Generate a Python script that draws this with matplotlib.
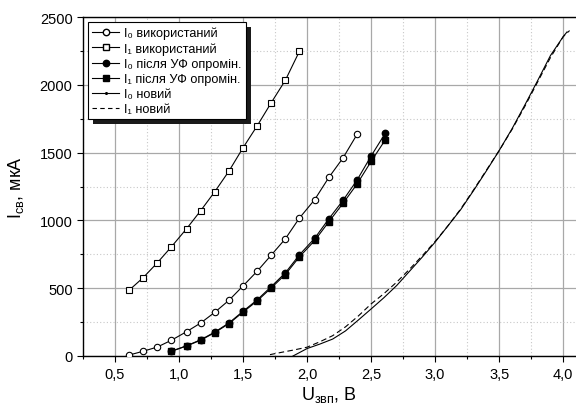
import numpy as np
import matplotlib
matplotlib.use("Agg")
import matplotlib.pyplot as plt
from matplotlib.lines import Line2D
from matplotlib.patches import Rectangle
from matplotlib.ticker import MultipleLocator, FuncFormatter

plt.rcParams['font.family'] = ['Liberation Sans', 'DejaVu Sans']

# measured points (U, V; I, uA)
u_pts = [0.61, 0.72, 0.83, 0.94, 1.06, 1.17, 1.28, 1.39, 1.50, 1.61, 1.72, 1.83, 1.94,
         2.06, 2.17, 2.28, 2.39, 2.50, 2.61]

i0_used = [7, 35, 66, 116, 180, 244, 323, 411, 517, 625, 744, 864, 1017, 1154, 1317, 1460, 1634]
i1_used = [485, 578, 687, 805, 940, 1073, 1213, 1364, 1536, 1697, 1868, 2033, 2247]

i0_uv = [35, 76, 120, 177, 244, 330, 414, 512, 613, 746, 869, 1012, 1147, 1297, 1475, 1642]
i1_uv = [35, 74, 117, 173, 239, 324, 406, 502, 601, 731, 852, 990, 1125, 1268, 1435, 1593]

u_new0 = [1.89, 2.0, 2.1, 2.2, 2.3, 2.4, 2.5, 2.6, 2.7, 2.8, 2.9, 3.0, 3.1, 3.2, 3.3,
          3.4, 3.5, 3.6, 3.7, 3.8, 3.9, 4.0, 4.03]
i0_new = [0, 55, 88, 125, 185, 265, 347, 430, 520, 625, 730, 840, 960, 1080, 1220,
          1365, 1515, 1675, 1850, 2030, 2215, 2355, 2390]

u_new1 = [1.71, 1.8, 1.9, 2.0, 2.1, 2.2, 2.3, 2.4, 2.5, 2.6, 2.7, 2.8, 2.9, 3.0, 3.1,
          3.2, 3.3, 3.4, 3.5, 3.6, 3.7, 3.8, 3.9, 4.0, 4.05]
i1_new = [10, 27, 45, 65, 105, 150, 215, 295, 384, 460, 545, 640, 740, 845, 960,
          1085, 1225, 1370, 1515, 1670, 1840, 2020, 2200, 2355, 2400]

labels = ["I₀ використаний", "I₁ використаний",
          "I₀ після УФ опромін.", "I₁ після УФ опромін.",
          "I₀ новий", "I₁ новий"]

fig = plt.figure(figsize=(5.76, 4.14), dpi=100)
ax = fig.add_axes([83/576, 1-357/414, 1-83/576, (357-18)/414])

lw = 0.8
ms = 4.6
ax.plot(u_pts[3:3+len(i1_uv)], i1_uv, 'k-', lw=lw, marker='s', ms=ms-0.4, mfc='k', mec='k', zorder=3)
ax.plot(u_pts[3:3+len(i0_uv)], i0_uv, 'k-', lw=lw, marker='o', ms=ms, mfc='k', mec='k', zorder=3)
ax.plot(u_pts[:len(i0_used)], i0_used, 'k-', lw=lw, marker='o', ms=ms, mfc='white', mec='k', mew=0.8, zorder=3)
ax.plot(u_pts[:len(i1_used)], i1_used, 'k-', lw=lw, marker='s', ms=ms-0.4, mfc='white', mec='k', mew=0.8, zorder=3)
ax.plot(u_new0, i0_new, 'k-', lw=lw, zorder=3)
ax.plot(u_new1, i1_new, 'k', ls=(0, (5, 3)), lw=lw, zorder=3)

ax.set_xlim(0.25, 4.1)
ax.set_ylim(0, 2500)
ax.xaxis.set_major_locator(MultipleLocator(0.5))
ax.xaxis.set_minor_locator(MultipleLocator(0.25))
ax.yaxis.set_major_locator(MultipleLocator(500))
ax.yaxis.set_minor_locator(MultipleLocator(250))
ax.xaxis.set_major_formatter(FuncFormatter(lambda v, p: ("%.1f" % v).replace('.', ',') if v > 0.3 else ""))

ax.grid(which='major', color='#a8a8a8', lw=0.9, ls='-')
ax.grid(which='minor', color='#c8c8c8', lw=0.8, ls=(0, (1, 2)))
ax.set_axisbelow(True)
ax.spines['right'].set_visible(False)
for s in ['left', 'bottom', 'top']:
    ax.spines[s].set_linewidth(1.0)
ax.tick_params(which='major', direction='out', length=4, width=0.8, labelsize=10.5, color='k')
ax.tick_params(which='minor', direction='out', length=2.5, width=0.8, color='k')
ax.tick_params(axis='x', pad=4)

ax.set_xlabel("U$_{\\mathregular{звп}}$, В", fontsize=13, labelpad=2)
ax.set_ylabel("I$_{\\mathregular{св}}$, мкА", fontsize=13, labelpad=10)

handles = [
    Line2D([], [], color='k', lw=lw, marker='o', ms=ms, mfc='white', mec='k'),
    Line2D([], [], color='k', lw=lw, marker='s', ms=ms-0.4, mfc='white', mec='k'),
    Line2D([], [], color='k', lw=lw, marker='o', ms=ms, mfc='k', mec='k'),
    Line2D([], [], color='k', lw=lw, marker='s', ms=ms-0.4, mfc='k', mec='k'),
    Line2D([], [], color='k', lw=lw, marker='o', ms=1.2, mfc='k', mec='k'),
    Line2D([], [], color='k', lw=lw, ls=(0, (4, 3))),
]
leg = ax.legend(handles, labels, loc='upper left', bbox_to_anchor=(88/576, 1-23/414),
                bbox_transform=fig.transFigure, borderaxespad=0, fontsize=9.2,
                frameon=True, fancybox=False, edgecolor='k', framealpha=1,
                handlelength=2.1, handletextpad=0.35, labelspacing=0.24,
                borderpad=0.35, handleheight=0.5)
leg.get_frame().set_linewidth(0.8)
leg.set_zorder(10)

fig.canvas.draw()
bb = leg.get_window_extent()
shadow = Rectangle((bb.x0 + 5, bb.y0 - 5), bb.width, bb.height, transform=None,
                   facecolor='#1a1a1a', edgecolor='none', zorder=9, clip_on=False)
ax.add_artist(shadow)

fig.savefig("out.png", dpi=100)
